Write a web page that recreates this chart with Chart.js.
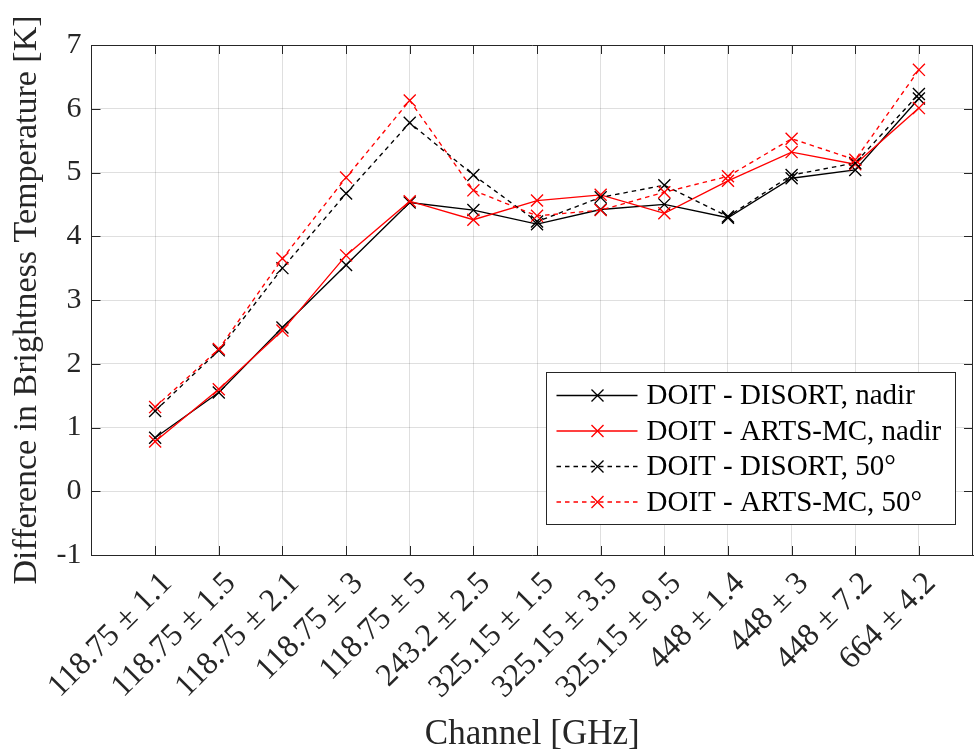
<!DOCTYPE html>
<html>
<head>
<meta charset="utf-8">
<script src="https://cdn.jsdelivr.net/npm/chart.js@4.4.1/dist/chart.umd.min.js"></script>
<style>
  html, body { margin: 0; padding: 0; background: #ffffff; }
  #wrap { width: 975px; height: 751px; position: relative; }
</style>
</head>
<body>
<div id="wrap"><canvas id="chart" width="975" height="751"></canvas></div>
<script>
// Channel labels (GHz)
const channels = [
  '118.75 ± 1.1', '118.75 ± 1.5', '118.75 ± 2.1', '118.75 ± 3', '118.75 ± 5',
  '243.2 ± 2.5', '325.15 ± 1.5', '325.15 ± 3.5', '325.15 ± 9.5',
  '448 ± 1.4', '448 ± 3', '448 ± 7.2', '664 ± 4.2'
];

// Brightness temperature differences [K]
const disortNadir = [0.84, 1.55, 2.57, 3.55, 4.53, 4.41, 4.19, 4.42, 4.50, 4.29, 4.91, 5.04, 6.16];
const artsMcNadir = [0.78, 1.60, 2.52, 3.70, 4.55, 4.26, 4.56, 4.65, 4.36, 4.87, 5.32, 5.13, 6.01];
const disort50    = [1.26, 2.21, 3.50, 4.67, 5.78, 4.96, 4.23, 4.61, 4.80, 4.31, 4.96, 5.15, 6.23];
const artsMc50    = [1.32, 2.23, 3.65, 4.92, 6.13, 4.72, 4.32, 4.41, 4.69, 4.94, 5.53, 5.20, 6.61];

const seriesLabels = [
  'DOIT - DISORT, nadir',
  'DOIT - ARTS-MC, nadir',
  'DOIT - DISORT, 50°',
  'DOIT - ARTS-MC, 50°'
];

const yTicks = [-1, 0, 1, 2, 3, 4, 5, 6, 7];

const SERIF = "'Liberation Serif', 'Times New Roman', serif";
const AXIS_COLOR = '#262626';
const GRID_COLOR = 'rgba(38,38,38,0.15)';
const DASH = [4.5, 4];
const MARK_R = 8.5;
const LINE_W = 1.35;

function toPoints(values) {
  return values.map((v, i) => ({ x: i, y: v }));
}

function makeDataset(label, values, color, dashed, order) {
  return {
    label: label,
    data: toPoints(values),
    borderColor: color,
    backgroundColor: color,
    borderWidth: LINE_W,
    borderDash: dashed ? DASH : [],
    pointStyle: 'crossRot',
    pointRadius: MARK_R,
    pointHoverRadius: MARK_R,
    pointBorderWidth: LINE_W,
    pointBorderColor: color,
    tension: 0,
    fill: false,
    order: order
  };
}

// Box outline, inward tick marks and the in-plot legend
const matlabFrame = {
  id: 'matlabFrame',
  beforeDatasetsDraw(chart) {
    const { ctx, chartArea: a, scales } = chart;
    const len = 9;
    ctx.save();
    ctx.strokeStyle = AXIS_COLOR;
    ctx.lineWidth = 1;
    ctx.beginPath();
    const top = Math.round(a.top) + 0.5;
    const right = Math.round(a.right) - 0.5;
    ctx.moveTo(Math.round(a.left) + 0.5, top);
    ctx.lineTo(right, top);
    ctx.lineTo(right, Math.round(a.bottom) + 0.5);
    scales.x.ticks.forEach(t => {
      const x = Math.round(scales.x.getPixelForValue(t.value)) + 0.5;
      ctx.moveTo(x, a.bottom);
      ctx.lineTo(x, a.bottom - len);
      ctx.moveTo(x, a.top);
      ctx.lineTo(x, a.top + len);
    });
    scales.y.ticks.forEach(t => {
      const y = Math.round(scales.y.getPixelForValue(t.value)) + 0.5;
      ctx.moveTo(a.left, y);
      ctx.lineTo(a.left + len, y);
      ctx.moveTo(a.right, y);
      ctx.lineTo(a.right - len, y);
    });
    ctx.stroke();
    ctx.restore();
  },
  afterDraw(chart) {
    const { ctx, chartArea: a } = chart;
    const boxW = 409, boxH = 152;
    const bx = Math.round(a.right - 427) + 0.5;
    const by = Math.round(a.top + 327) + 0.5;
    ctx.save();
    ctx.fillStyle = '#ffffff';
    ctx.fillRect(bx, by, boxW, boxH);
    ctx.strokeStyle = AXIS_COLOR;
    ctx.lineWidth = 1;
    ctx.strokeRect(bx, by, boxW, boxH);
    const rowH = 35.5;
    const firstRow = by + 23;
    const lineX0 = bx + 10, lineX1 = bx + 91, markX = bx + 51;
    const d = MARK_R * 0.707;
    chart.data.datasets.forEach((ds, i) => {
      const y = firstRow + i * rowH;
      ctx.strokeStyle = ds.borderColor;
      ctx.lineWidth = ds.borderWidth;
      ctx.setLineDash(ds.borderDash || []);
      ctx.beginPath();
      ctx.moveTo(lineX0, y);
      ctx.lineTo(lineX1, y);
      ctx.stroke();
      ctx.setLineDash([]);
      ctx.beginPath();
      ctx.moveTo(markX - d, y - d);
      ctx.lineTo(markX + d, y + d);
      ctx.moveTo(markX - d, y + d);
      ctx.lineTo(markX + d, y - d);
      ctx.stroke();
      ctx.fillStyle = '#000000';
      ctx.font = '29px ' + SERIF;
      ctx.textAlign = 'left';
      ctx.textBaseline = 'middle';
      ctx.fillText(ds.label, bx + 100, y + 1);
    });
    ctx.restore();
  }
};

const ctx = document.getElementById('chart').getContext('2d');
new Chart(ctx, {
  type: 'line',
  data: {
    datasets: [
      makeDataset(seriesLabels[0], disortNadir, '#000000', false, 3),
      makeDataset(seriesLabels[1], artsMcNadir, '#ff0000', false, 2),
      makeDataset(seriesLabels[2], disort50, '#000000', true, 1),
      makeDataset(seriesLabels[3], artsMc50, '#ff0000', true, 0)
    ]
  },
  options: {
    responsive: false,
    animation: false,
    devicePixelRatio: 1,
    layout: { autoPadding: false, padding: { left: 0, top: 45, right: 2, bottom: 0 } },
    plugins: {
      legend: { display: false },
      tooltip: { enabled: false },
      title: { display: false }
    },
    scales: {
      x: {
        type: 'linear',
        min: -1,
        max: 12.85,
        afterBuildTicks(scale) {
          scale.ticks = channels.map((c, i) => ({ value: i }));
        },
        afterFit(scale) { scale.height = 196; },
        grid: { color: GRID_COLOR, lineWidth: 1, drawTicks: false },
        border: { color: AXIS_COLOR, width: 1 },
        ticks: {
          autoSkip: false,
          minRotation: 45,
          maxRotation: 45,
          padding: 10,
          labelOffset: 12,
          color: AXIS_COLOR,
          font: { family: SERIF, size: 32 },
          callback: (v) => channels[v] !== undefined ? channels[v] : ''
        },
        title: {
          display: true,
          text: 'Channel [GHz]',
          color: AXIS_COLOR,
          font: { family: SERIF, size: 35, lineHeight: 0.9 },
          padding: { top: 0, bottom: 0 }
        }
      },
      y: {
        type: 'linear',
        min: -1,
        max: 7,
        afterBuildTicks(scale) {
          scale.ticks = yTicks.map(v => ({ value: v }));
        },
        afterFit(scale) { scale.width = 91.5; },
        grid: { color: GRID_COLOR, lineWidth: 1, drawTicks: false },
        border: { color: AXIS_COLOR, width: 1 },
        ticks: {
          padding: 10,
          color: AXIS_COLOR,
          font: { family: SERIF, size: 30 },
          callback: (v) => String(v)
        },
        title: {
          display: true,
          text: 'Difference in Brightness Temperature [K]',
          color: AXIS_COLOR,
          font: { family: SERIF, size: 34 },
          padding: { top: 7, bottom: 0 }
        }
      }
    }
  },
  plugins: [matlabFrame]
});
</script>
</body>
</html>
